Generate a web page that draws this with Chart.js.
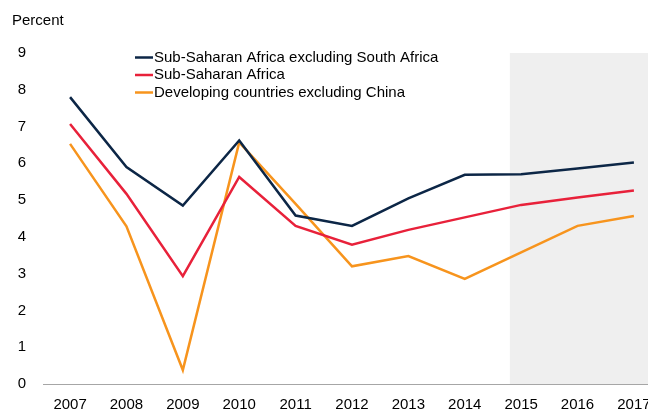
<!DOCTYPE html>
<html>
<head>
<meta charset="utf-8">
<script src="https://cdn.jsdelivr.net/npm/chart.js@4.4.1/dist/chart.umd.min.js"></script>
<style>
  html, body { margin: 0; padding: 0; background: #fff; }
  #wrap { width: 648px; height: 410px; }
</style>
</head>
<body>
<div id="wrap"><canvas id="growth"></canvas></div>
<script>
const years = [2007, 2008, 2009, 2010, 2011, 2012, 2013, 2014, 2015, 2016, 2017];
const ssaExSouthAfrica = [7.8, 5.9, 4.85, 6.62, 4.58, 4.3, 5.05, 5.69, 5.7, 5.86, 6.02];
const ssa = [7.07, 5.17, 2.93, 5.63, 4.3, 3.79, 4.19, 4.53, 4.87, 5.07, 5.26];
const devExChina = [6.53, 4.29, 0.38, 6.57, 4.9, 3.2, 3.48, 2.86, 3.58, 4.3, 4.57];
const seriesNames = [
  "Sub-Saharan Africa excluding South Africa",
  "Sub-Saharan Africa",
  "Developing countries excluding China",
];
const yMin = 0, yMax = 9;
const forecastFrom = 2014.8; // shaded projection years

const FONT = "Liberation Sans, Arial, sans-serif";

function toPoints(vals) {
  return years.map((yr, i) => ({ x: yr, y: vals[i] }));
}

// grey box behind the projection years
const shadePlugin = {
  id: "shade",
  beforeDraw(chart) {
    const { ctx, scales } = chart;
    const x0 = scales.x.getPixelForValue(forecastFrom);
    const top = scales.y.getPixelForValue(yMax);
    const bottom = scales.y.getPixelForValue(yMin);
    ctx.save();
    ctx.fillStyle = "#efefef";
    ctx.fillRect(x0, top, chart.width - x0, bottom - top);
    ctx.restore();
  },
};

// legend drawn inside the plot, stacked like the original
const legendPlugin = {
  id: "insideLegend",
  afterDraw(chart) {
    const { ctx, chartArea } = chart;
    const x = chartArea.left + 92;
    ctx.save();
    ctx.font = "15px " + FONT;
    ctx.textBaseline = "middle";
    chart.data.datasets.forEach((ds, i) => {
      const y = 57.5 + i * 17.5;
      ctx.strokeStyle = ds.borderColor;
      ctx.lineWidth = 2.5;
      ctx.beginPath();
      ctx.moveTo(x, y);
      ctx.lineTo(x + 18, y);
      ctx.stroke();
      ctx.fillStyle = "#000";
      ctx.fillText(ds.label, x + 19, y);
    });
    ctx.restore();
  },
};

new Chart(document.getElementById("growth"), {
  type: "line",
  data: {
    datasets: [
      { label: seriesNames[0], data: toPoints(ssaExSouthAfrica), borderColor: "#0c2646" },
      { label: seriesNames[1], data: toPoints(ssa), borderColor: "#e8213a" },
      { label: seriesNames[2], data: toPoints(devExChina), borderColor: "#f7941d" },
    ],
  },
  options: {
    responsive: true,
    maintainAspectRatio: false,
    animation: false,
    elements: {
      line: { borderWidth: 2.5, tension: 0, fill: false },
      point: { radius: 0, hoverRadius: 0 },
    },
    layout: { padding: { left: 12, right: 0, top: 0, bottom: 0 } },
    plugins: {
      legend: { display: false },
      tooltip: { enabled: false },
      title: {
        display: true,
        text: "Percent",
        align: "start",
        color: "#000",
        font: { size: 15, family: FONT, weight: "normal", lineHeight: 1.2 },
        padding: { top: 12, bottom: 23 },
      },
    },
    scales: {
      x: {
        type: "linear",
        min: 2006.52,
        max: 2017.25,
        grid: { display: false, drawTicks: false },
        border: { display: true, color: "#a6a6a6", width: 1 },
        ticks: {
          color: "#000",
          font: { size: 15, family: FONT },
          padding: 12,
          autoSkip: false,
          maxRotation: 0,
          callback: (v) => String(v),
        },
        afterBuildTicks: (s) => {
          s.ticks = years.map((v) => ({ value: v }));
        },
        afterFit: (s) => {
          s.paddingLeft = 0;
          s.paddingRight = 0;
          s.height = 25;
        },
      },
      y: {
        min: yMin,
        max: yMax,
        grid: { display: false, drawTicks: false },
        border: { display: false },
        ticks: {
          stepSize: 1,
          color: "#000",
          font: { size: 15, family: FONT },
          padding: 17,
        },
        afterFit: (s) => {
          s.width = 31;
        },
      },
    },
  },
  plugins: [shadePlugin, legendPlugin],
});
</script>
</body>
</html>
